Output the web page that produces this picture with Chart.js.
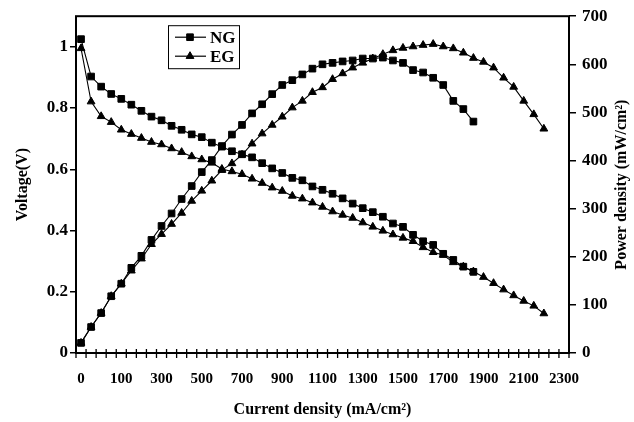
<!DOCTYPE html>
<html><head><meta charset="utf-8">
<script src="https://cdn.jsdelivr.net/npm/chart.js@4"></script>
<style>html,body{margin:0;padding:0;background:#fff;}canvas{display:block}</style>
</head><body>
<canvas id="c" width="634" height="422"></canvas>
<script>
// Category positions along the current-density axis (every 4th is labelled)
const categories = [0,25,50,75,100,150,200,250,300,350,400,450,500,550,600,650,700,750,800,850,900,950,1000,1050,1100,1150,1200,1250,1300,1350,1400,1450,1500,1550,1600,1650,1700,1750,1800,1850,1900,1950,2000,2050,2100,2150,2200,2250,2300];

const seriesNames = ['NG', 'EG'];

const ngVoltage = [1.025,0.903,0.870,0.846,0.830,0.811,0.791,0.772,0.760,0.742,0.729,0.714,0.705,0.687,0.674,0.659,0.649,0.639,0.620,0.603,0.588,0.572,0.564,0.544,0.533,0.520,0.505,0.488,0.473,0.460,0.445,0.423,0.412,0.386,0.365,0.353,0.324,0.304,0.282,0.265];
const egVoltage = [0.995,0.821,0.773,0.754,0.729,0.715,0.702,0.689,0.681,0.668,0.656,0.642,0.632,0.621,0.601,0.593,0.584,0.569,0.555,0.540,0.529,0.513,0.504,0.491,0.477,0.462,0.451,0.441,0.426,0.412,0.399,0.387,0.376,0.365,0.345,0.329,0.320,0.296,0.282,0.266,0.248,0.228,0.207,0.188,0.170,0.154,0.129];
const ngPower = [21,54,83,118,144,177,202,235,264,290,320,347,376,401,430,454,474,498,517,538,557,567,579,591,600,603,606,608,612,612,614,608,603,588,583,572,557,524,507,481];
const egPower = [21,54,83,118,144,171,196,226,247,268,291,316,337,358,380,394,412,435,456,474,491,510,524,542,552,569,581,593,603,612,621,629,634,637,640,642,637,633,624,613,605,593,572,553,524,496,466];

const xTitle = 'Current density (mA/cm²)';
const yLeftTitle = 'Voltage(V)';
const yRightTitle = 'Power density (mW/cm²)';

const FONT = 'Liberation Serif';
const BLACK = '#000';

function ds(label, data, axis, style, r) {
  return {
    label, data, yAxisID: axis,
    borderColor: BLACK, backgroundColor: BLACK, borderWidth: 1.1,
    pointStyle: style, pointRadius: r, pointHoverRadius: r,
    pointBackgroundColor: BLACK, pointBorderColor: BLACK, pointBorderWidth: 1,
    tension: 0, fill: false
  };
}

const framePlugin = {
  id: 'frame',
  afterDraw(chart) {
    const {ctx, chartArea: ca} = chart;
    const xs = chart.scales.x;
    ctx.save();
    ctx.strokeStyle = BLACK;
    ctx.lineWidth = 2;
    ctx.strokeRect(ca.left, ca.top, ca.right - ca.left, ca.bottom - ca.top);
    // crossing tick marks at category boundaries
    ctx.lineWidth = 1.3;
    const n = categories.length;
    const step = xs.getPixelForValue(1) - xs.getPixelForValue(0);
    ctx.beginPath();
    for (let i = 0; i <= n; i++) {
      const x = xs.getPixelForValue(i) - step / 2;
      ctx.moveTo(x, ca.bottom - 4);
      ctx.lineTo(x, ca.bottom + 5);
    }
    ctx.stroke();
    // right axis title, reading bottom-to-top
    ctx.save();
    ctx.translate(622, (ca.top + ca.bottom) / 2);
    ctx.rotate(-Math.PI / 2);
    ctx.font = 'bold 16px "' + FONT + '"';
    ctx.textAlign = 'center';
    ctx.textBaseline = 'middle';
    ctx.fillStyle = BLACK;
    ctx.fillText(yRightTitle, 0, 0);
    ctx.restore();
    // legend inside plot
    const bx = ca.left + 92, by = ca.top + 9, bw = 71, bh = 43;
    ctx.lineWidth = 1;
    ctx.strokeRect(bx + 0.5, by + 0.5, bw, bh);
    ctx.font = 'bold 17px "' + FONT + '"';
    ctx.textBaseline = 'middle';
    ctx.textAlign = 'left';
    ctx.fillStyle = BLACK;
    for (let k = 0; k < 2; k++) {
      const d = chart.data.datasets[k];
      const y = by + 12 + k * 19;
      ctx.beginPath();
      ctx.lineWidth = 1.2;
      ctx.moveTo(bx + 7, y); ctx.lineTo(bx + 38, y); ctx.stroke();
      ctx.lineWidth = 1;
      Chart.helpers.drawPoint(ctx, {pointStyle: d.pointStyle, radius: d.pointRadius, borderWidth: 1, rotation: 0}, bx + 22, y);
      ctx.fillText(d.label, bx + 42, y + 1);
    }
    ctx.restore();
  }
};

const tickFont = (s) => ({family: FONT, size: s, weight: 'bold'});

new Chart(document.getElementById('c'), {
  type: 'line',
  data: {
    labels: categories,
    datasets: [
      ds(seriesNames[0], ngVoltage, 'yV', 'rect', 4.7),
      ds(seriesNames[1], egVoltage, 'yV', 'triangle', 4.5),
      ds(seriesNames[0], ngPower, 'yP', 'rect', 4.7),
      ds(seriesNames[1], egPower, 'yP', 'triangle', 4.5)
    ]
  },
  options: {
    responsive: false, animation: false, devicePixelRatio: 1,
    layout: {padding: {top: 13, left: 0, right: 0, bottom: 0}},
    plugins: {legend: {display: false}, tooltip: {enabled: false}},
    scales: {
      x: {
        type: 'category', offset: true,
        grid: {display: false}, border: {display: false},
        ticks: {autoSkip: false, maxRotation: 0, minRotation: 0, padding: 9, color: BLACK, font: tickFont(15),
          callback: (v, i) => (i % 4 === 0 ? String(categories[i]) : '')},
        title: {display: true, text: xTitle, color: BLACK, font: tickFont(16), padding: {top: 0, bottom: 3}},
        afterFit: s => { s.height = 69; }
      },
      yV: {
        position: 'left', min: 0, max: 1.1,
        afterBuildTicks: a => { a.ticks = a.ticks.filter(t => t.value <= 1.0001); },
        ticks: {stepSize: 0.2, color: BLACK, font: tickFont(17), padding: 2,
          callback: v => String(Math.round(v * 10) / 10)},
        grid: {drawOnChartArea: false, tickLength: 6, color: BLACK, lineWidth: 1.5},
        border: {display: false},
        title: {display: true, text: yLeftTitle, color: BLACK, font: tickFont(16), padding: {top: 13, bottom: 0}},
        afterFit: s => { s.width = 76; }
      },
      yP: {
        position: 'right', min: 0, max: 700,
        ticks: {stepSize: 100, color: BLACK, font: tickFont(17), padding: 6},
        grid: {drawOnChartArea: false, tickLength: 7, color: BLACK, lineWidth: 1.5},
        border: {display: false},
        title: {display: false},
        afterFit: s => { s.width = 65; }
      }
    }
  },
  plugins: [framePlugin]
});
</script>
</body></html>
